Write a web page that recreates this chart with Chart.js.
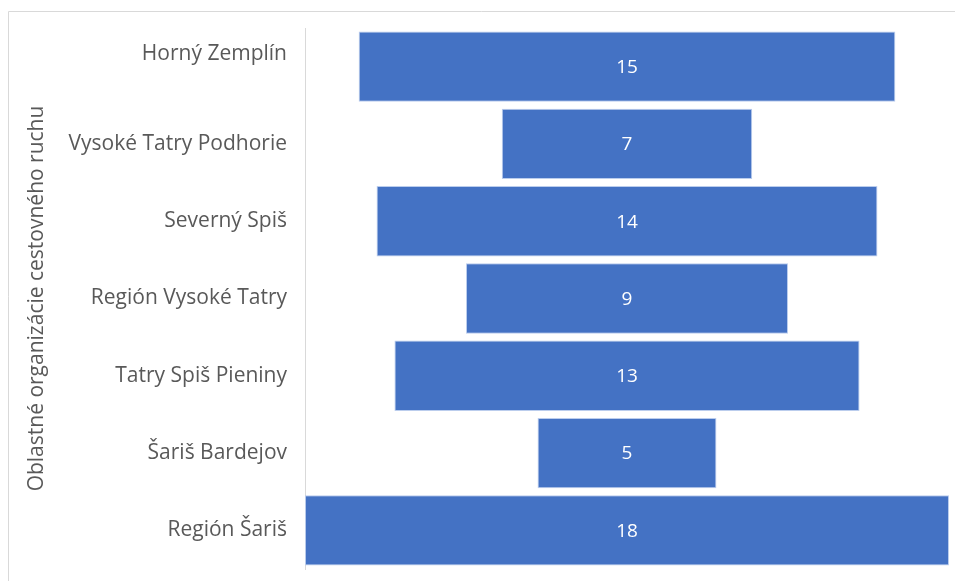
<!DOCTYPE html>
<html>
<head>
<meta charset="utf-8">
<script src="https://cdn.jsdelivr.net/npm/chart.js@4/dist/chart.umd.min.js"></script>
<style>
  html, body { margin: 0; padding: 0; background: #fff; }
  #wrap { position: relative; width: 955px; height: 581px; }
</style>
</head>
<body>
<div id="wrap"><canvas id="funnel"></canvas></div>
<script>
// regions (top to bottom) and number of members
const categories = ['Horný Zemplín', 'Vysoké Tatry Podhorie', 'Severný Spiš', 'Región Vysoké Tatry',
                    'Tatry Spiš Pieniny', 'Šariš Bardejov', 'Región Šariš'];
const values = [15, 7, 14, 9, 13, 5, 18];
const axisTitle = 'Oblastné organizácie cestovného ruchu';

const half = Math.max(...values) / 2;

// white value labels in the middle of each bar
const valueLabels = {
    id: 'valueLabels',
    afterDatasetsDraw(chart) {
        const ctx = chart.ctx;
        const meta = chart.getDatasetMeta(0);
        ctx.save();
        ctx.fillStyle = '#ffffff';
        ctx.font = '19px "Open Sans"';
        ctx.textAlign = 'center';
        ctx.textBaseline = 'middle';
        meta.data.forEach((bar, i) => {
            ctx.fillText(String(values[i]), (bar.x + bar.base) / 2, bar.y + 1);
        });
        ctx.restore();
    }
};

// thin frame of the chart area, cut by the picture edge
const frame = {
    id: 'frame',
    beforeDraw(chart) {
        const ctx = chart.ctx;
        ctx.save();
        ctx.strokeStyle = '#d9d9d9';
        ctx.lineWidth = 1;
        ctx.beginPath();
        ctx.moveTo(8.5, chart.height);
        ctx.lineTo(8.5, 11.5);
        ctx.lineTo(chart.width, 11.5);
        ctx.stroke();
        ctx.restore();
    }
};

new Chart(document.getElementById('funnel'), {
    type: 'bar',
    data: {
        labels: categories,
        datasets: [{
            data: values.map(v => [-v / 2, v / 2]),
            backgroundColor: '#4472c4',
            borderColor: 'rgba(180, 200, 235, 0.9)',
            borderWidth: 1,
            borderSkipped: false,
            barPercentage: 0.91,
            categoryPercentage: 1.0
        }]
    },
    options: {
        indexAxis: 'y',
        responsive: true,
        maintainAspectRatio: false,
        animation: false,
        layout: { padding: { top: 28, bottom: 12, right: 6, left: 0 } },
        plugins: {
            legend: { display: false },
            tooltip: { enabled: false }
        },
        scales: {
            x: {
                min: -half,
                max: half,
                display: false
            },
            y: {
                afterFit(scale) {
                    scale.width = 305;
                    scale.paddingTop = 0;
                    scale.paddingBottom = 0;
                },
                grid: { display: false, drawTicks: false },
                border: { display: true, color: '#d9d9d9', width: 1 },
                ticks: {
                    color: '#595959',
                    padding: 18,
                    font: { family: '"Open Sans"', size: 21 },
                    crossAlign: 'near',
                    // the top label sits a bit higher in the original
                    callback: (v, i) => i === 0 ? [categories[i], ''] : categories[i]
                },
                title: {
                    display: true,
                    text: axisTitle,
                    color: '#595959',
                    font: { family: '"Open Sans"', size: 21 },
                    padding: { top: 24, bottom: 0 }
                }
            }
        }
    },
    plugins: [frame, valueLabels]
});
</script>
</body>
</html>
